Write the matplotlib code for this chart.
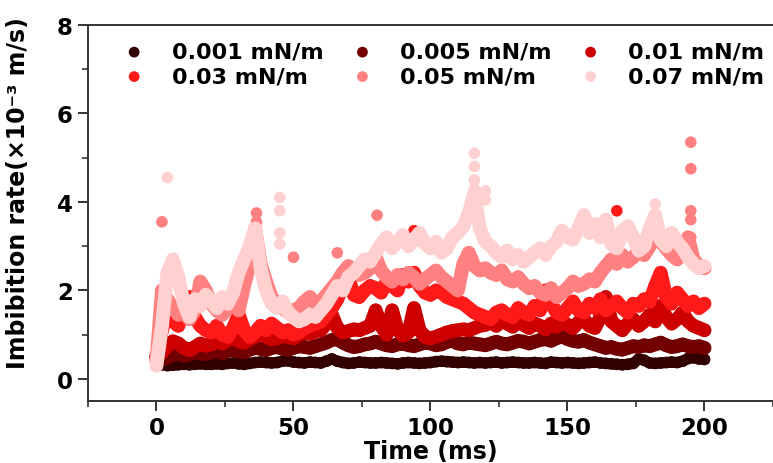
import numpy as np
import matplotlib
matplotlib.use("Agg")
import matplotlib.pyplot as plt
from matplotlib.ticker import MultipleLocator

# ---------------- data ----------------
time_ms = list(range(0, 201, 2))

labels = ["0.001 mN/m", "0.005 mN/m", "0.01 mN/m", "0.03 mN/m", "0.05 mN/m", "0.07 mN/m"]
colors = ["#330000", "#720000", "#CC0000", "#FF1A1A", "#FF8080", "#FFD0D0"]

rate_0001 = [0.50, 0.32, 0.30, 0.31, 0.32, 0.33, 0.32, 0.33, 0.34, 0.33,
             0.33, 0.34, 0.33, 0.35, 0.36, 0.34, 0.33, 0.35, 0.37, 0.38,
             0.37, 0.36, 0.37, 0.40, 0.41, 0.38, 0.37, 0.36, 0.38, 0.37,
             0.36, 0.40, 0.45, 0.40, 0.37, 0.35, 0.36, 0.38, 0.37, 0.36,
             0.36, 0.37, 0.36, 0.35, 0.34, 0.36, 0.37, 0.36, 0.35, 0.36,
             0.37, 0.39, 0.40, 0.39, 0.38, 0.37, 0.38, 0.37, 0.36, 0.37,
             0.36, 0.37, 0.38, 0.36, 0.37, 0.38, 0.37, 0.36, 0.36, 0.37,
             0.36, 0.35, 0.38, 0.37, 0.36, 0.37, 0.36, 0.35, 0.36, 0.37,
             0.38, 0.36, 0.35, 0.34, 0.33, 0.32, 0.33, 0.35, 0.45, 0.42,
             0.36, 0.35, 0.36, 0.37, 0.38, 0.37, 0.40, 0.46, 0.48, 0.45,
             0.44]

rate_0005 = [0.52, 0.45, 0.48, 0.55, 0.58, 0.52, 0.55, 0.60, 0.58, 0.56,
             0.60, 0.62, 0.58, 0.64, 0.66, 0.62, 0.60, 0.66, 0.70, 0.68,
             0.65, 0.70, 0.72, 0.68, 0.66, 0.70, 0.74, 0.72, 0.70, 0.74,
             0.78, 0.82, 0.88, 0.90, 0.82, 0.76, 0.72, 0.74, 0.78, 0.80,
             0.84, 0.80, 0.76, 0.74, 0.78, 0.80, 0.76, 0.74, 0.78, 0.82,
             0.80, 0.76, 0.78, 0.84, 0.86, 0.80, 0.78, 0.82, 0.80, 0.78,
             0.76, 0.80, 0.84, 0.80, 0.78, 0.82, 0.86, 0.84, 0.80, 0.84,
             0.88, 0.90, 0.86, 0.92, 0.96, 0.90, 0.86, 0.84, 0.88, 0.82,
             0.78, 0.74, 0.70, 0.72, 0.68, 0.66, 0.70, 0.74, 0.72, 0.76,
             0.74, 0.78, 0.82, 0.76, 0.72, 0.74, 0.78, 0.74, 0.72, 0.74,
             0.70]

rate_001 = [0.50, 0.60, 0.75, 0.85, 0.80, 0.70, 0.65, 0.72, 0.80, 0.75,
            0.78, 0.85, 0.80, 0.88, 0.92, 0.85, 0.82, 0.90, 0.95, 1.05,
            0.95, 0.90, 0.92, 0.98, 0.95, 0.92, 1.00, 1.05, 1.02, 1.08,
            1.10, 1.25, 1.45, 1.15, 1.05, 1.08, 1.12, 1.10, 1.15, 1.20,
            1.55, 1.20, 1.00, 1.55, 1.10, 0.98, 1.05, 1.60, 1.10, 0.95,
            0.92, 0.95, 1.00, 1.05, 1.08, 1.10, 1.12, 1.10, 1.15, 1.20,
            1.22, 1.28, 1.20, 1.32, 1.25, 1.18, 1.30, 1.22, 1.15, 1.25,
            1.20, 1.12, 1.25, 1.18, 1.30, 1.22, 1.15, 1.28, 1.35, 1.20,
            1.15, 1.40, 1.85, 1.30, 1.20, 1.10, 1.25, 1.35, 1.20, 1.30,
            1.45, 1.30, 1.65, 1.40, 1.25, 1.35, 1.50, 1.30, 1.20, 1.15,
            1.10]

rate_003 = [0.45, 1.10, 1.50, 1.30, 1.20, 1.60, 1.85, 1.40, 1.20, 1.10,
            1.05, 1.20, 1.00, 0.95, 1.15, 1.45, 1.10, 0.95, 1.05, 1.20,
            1.10, 1.25, 1.15, 1.05, 1.10, 1.00, 1.05, 1.15, 1.20, 1.25,
            1.30, 1.45, 1.60, 1.80, 2.10, 2.30, 1.90, 1.85, 2.00, 2.10,
            2.05, 1.95, 2.20, 2.10, 2.00, 2.35, 2.20, 2.40, 2.10, 1.95,
            1.90, 2.00, 1.95, 1.85, 1.80, 1.75, 1.70, 1.60, 1.50, 1.45,
            1.40, 1.35, 1.50, 1.55, 1.45, 1.40, 1.60, 1.50, 1.45, 1.65,
            1.55, 2.00, 1.70, 1.50, 1.45, 1.60, 1.75, 1.55, 1.50, 1.70,
            1.60, 1.80, 1.55, 1.65, 1.75, 1.60, 1.50, 1.70, 1.65, 1.80,
            1.75, 2.10, 2.40, 1.85, 1.70, 1.95, 1.80, 1.65, 1.75, 1.60,
            1.70]

rate_005 = [0.40, 2.00, 1.80, 1.60, 1.45, 1.50, 1.35, 1.55, 2.20, 2.00,
            1.70, 1.55, 1.45, 1.60, 1.75, 1.55, 2.10, 2.60, 3.40, 2.60,
            2.20, 1.85, 1.70, 1.60, 1.50, 1.55, 1.60, 1.75, 1.85, 1.70,
            1.75, 1.90, 2.05, 2.20, 2.40, 2.55, 2.45, 2.35, 2.40, 2.50,
            2.75, 2.45, 2.30, 2.20, 2.35, 2.25, 2.40, 2.30, 2.15, 2.25,
            2.35, 2.45, 2.30, 2.20, 2.10, 2.00, 2.60, 2.85, 2.55, 2.45,
            2.50, 2.40, 2.35, 2.45, 2.25, 2.20, 2.30, 2.15, 2.05, 2.10,
            1.95, 1.90, 2.05, 1.85, 1.95, 2.05, 2.20, 2.10, 2.15, 2.25,
            2.20, 2.40, 2.55, 2.70, 2.60, 2.80, 2.65, 2.75, 2.90, 2.80,
            3.00, 3.35, 3.10, 2.95, 2.80, 2.70, 2.85, 3.20, 2.70, 2.55,
            2.50]

rate_007 = [0.30, 1.20, 2.40, 2.70, 2.30, 1.70, 1.40, 1.80, 1.65, 1.90,
            1.75, 1.60, 1.85, 1.70, 1.95, 2.40, 2.70, 3.00, 3.40, 2.50,
            2.00, 1.70, 1.60, 1.75, 1.50, 1.40, 1.30, 1.35, 1.45, 1.40,
            1.55, 1.70, 1.90, 2.10, 2.00, 2.30, 2.40, 2.55, 2.70, 2.65,
            2.85, 3.05, 3.20, 2.95, 3.10, 3.25, 3.00, 3.15, 3.30, 3.05,
            2.95, 3.10, 2.85, 2.95, 3.20, 3.30, 3.45, 3.75, 4.20, 3.40,
            3.10, 3.00, 2.85, 2.75, 2.90, 2.70, 2.80, 2.65, 2.75, 2.85,
            2.95, 2.80, 3.00, 3.10, 3.35, 3.20, 3.15, 3.40, 3.70, 3.30,
            3.50, 3.20, 3.60, 3.05, 2.95, 3.35, 3.45, 3.20, 2.90, 3.00,
            3.40, 3.70, 3.15, 3.00, 3.30, 3.10, 2.95, 2.75, 2.60, 2.50,
            2.55]

# isolated outlying points (time, rate)
extra_t_003 = [94, 168]
extra_v_003 = [3.35, 3.80]
extra_t_005 = [2, 36.5, 36.5, 50, 66, 80.5, 195, 195, 195, 195, 195]
extra_v_005 = [3.55, 3.75, 3.55, 2.75, 2.85, 3.70, 5.35, 4.75, 3.80, 3.60, 3.20]
extra_t_007 = [4, 45, 45, 45, 45, 116, 116, 116, 116, 120, 120, 182]
extra_v_007 = [4.55, 4.10, 3.80, 3.30, 3.05, 5.10, 4.80, 4.50, 4.30, 4.25, 4.05, 3.95]

series = [rate_0001, rate_0005, rate_001, rate_003, rate_005, rate_007]
extras = [([], []), ([], []), ([], []),
          (extra_t_003, extra_v_003), (extra_t_005, extra_v_005), (extra_t_007, extra_v_007)]
band_width = [8, 10, 10, 10, 10, 10]

# ---------------- figure ----------------
plt.rcParams['font.family'] = ['DejaVu Sans']
plt.rcParams['font.weight'] = 'bold'

fig = plt.figure(figsize=(7.73, 4.64), dpi=100)
ax = fig.add_axes([0.1138, 0.1336, 0.8862, 0.8104])

handles = []
for vals, col, lab, (et, ev), bw in zip(series, colors, labels, extras, band_width):
    ax.plot(time_ms, vals, color=col, lw=bw, solid_joinstyle='round',
            solid_capstyle='round', zorder=2)
    ax.scatter(time_ms, vals, s=bw * 9, color=col, edgecolors='none', zorder=2)
    if et:
        ax.scatter(et, ev, s=70, color=col, edgecolors='none', zorder=2)
    h = ax.scatter([], [], s=60, color=col, edgecolors='none', label=lab)
    handles.append(h)

ax.set_xlim(-25, 225)
ax.set_ylim(-0.5, 8)
ax.xaxis.set_major_locator(MultipleLocator(50))
ax.xaxis.set_minor_locator(MultipleLocator(25))
ax.yaxis.set_major_locator(MultipleLocator(2))
ax.yaxis.set_minor_locator(MultipleLocator(1))
ax.set_xticks([0, 50, 100, 150, 200])

for s in ['left', 'bottom', 'top']:
    ax.spines[s].set_linewidth(1.4)
    ax.spines[s].set_color('#333333')
ax.spines['right'].set_visible(False)
ax.tick_params(which='major', direction='out', length=7, width=1.4, color='#333333',
               labelsize=16.5, pad=4, top=False, right=False)
ax.tick_params(which='minor', direction='out', length=4, width=1.2, color='#333333',
               top=False, right=False)
for lbl in ax.get_xticklabels() + ax.get_yticklabels():
    lbl.set_fontweight('bold')

ax.set_xlabel("Time (ms)", fontsize=17, fontweight='bold', labelpad=0)
ax.set_ylabel("Imbibition rate(×10⁻³ m/s)", fontsize=17, fontweight='bold')
ax.yaxis.set_label_coords(-0.085, 0.555)

order = [0, 3, 1, 4, 2, 5]
leg = ax.legend([handles[i] for i in order], [labels[i] for i in order], ncol=3,
                loc='upper left', bbox_to_anchor=(0.022, 1.008), frameon=False,
                prop={'size': 16, 'weight': 'bold'}, handletextpad=1.2,
                columnspacing=1.25, labelspacing=0.2, handlelength=1.0,
                scatterpoints=1)

fig.savefig("out.png", dpi=100)
